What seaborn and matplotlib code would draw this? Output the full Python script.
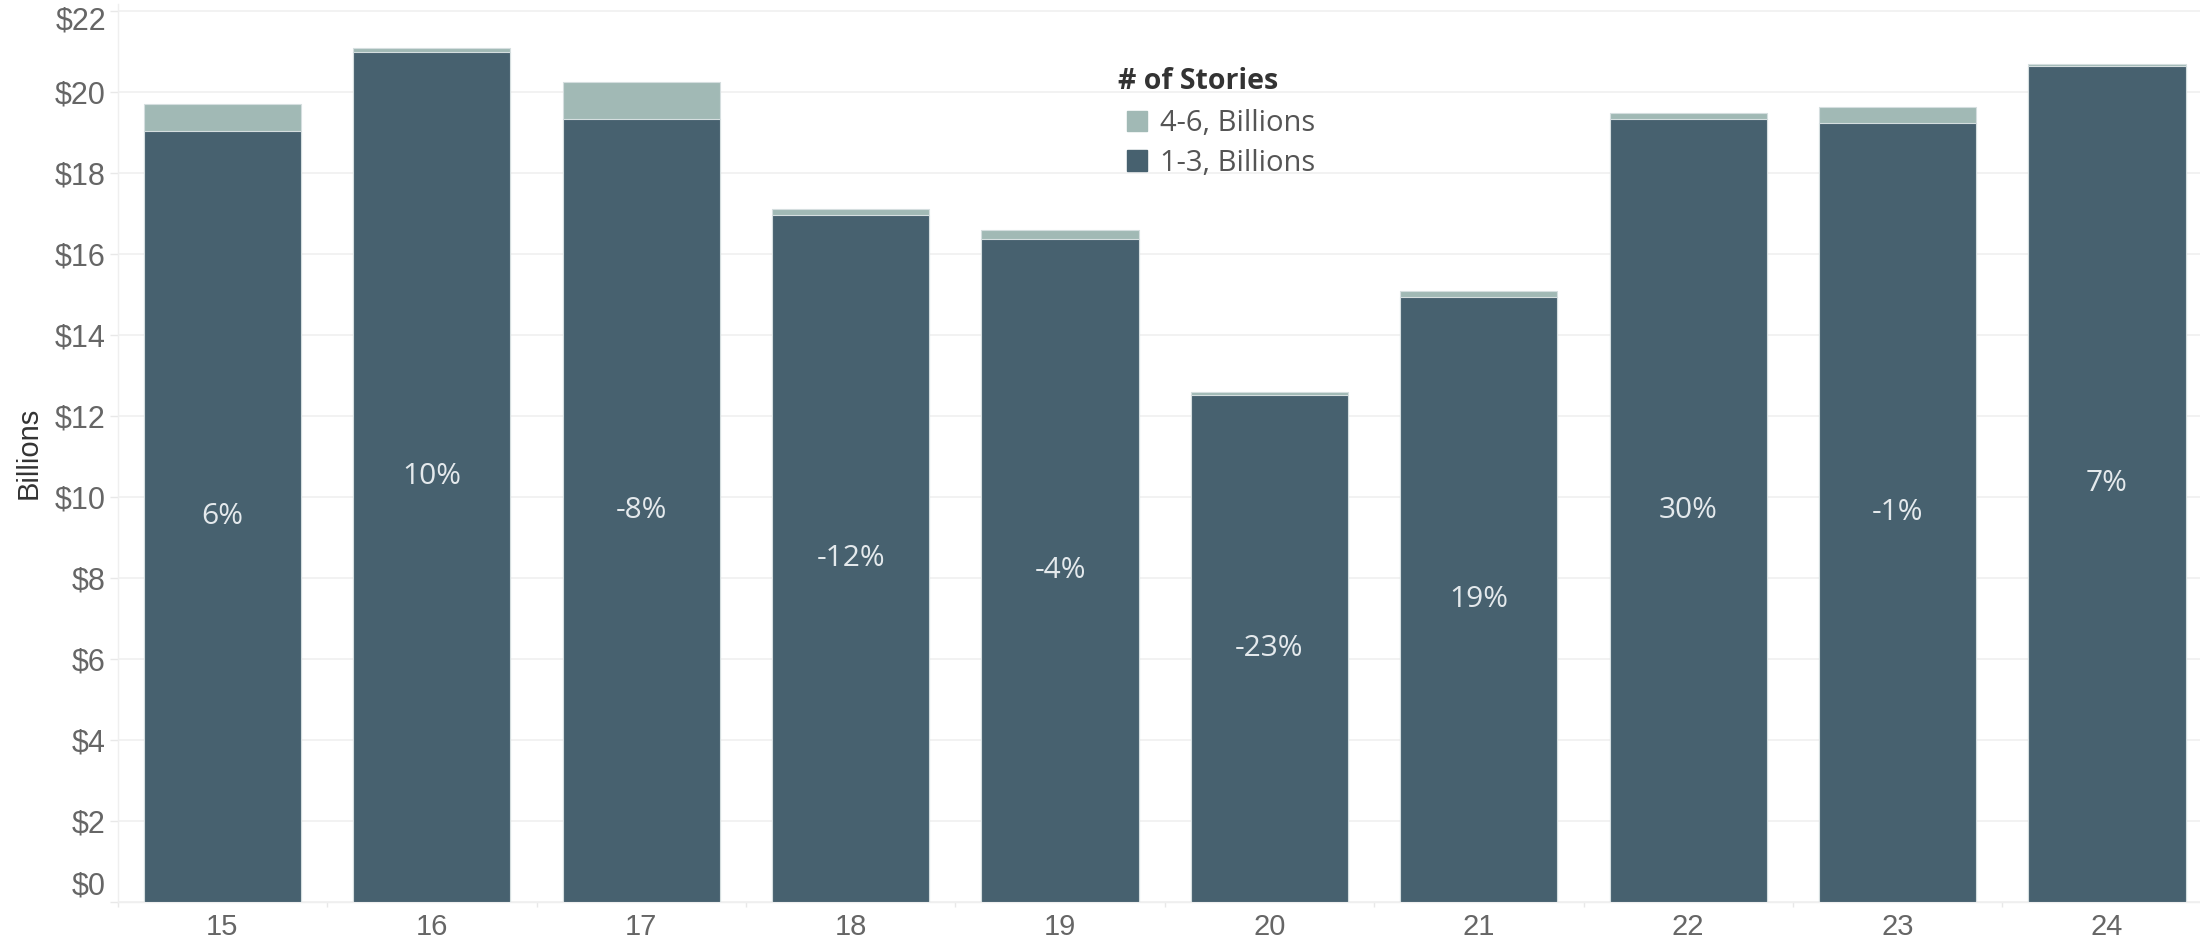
import matplotlib
matplotlib.use("Agg")
import matplotlib.pyplot as plt
from matplotlib.patches import Patch
from matplotlib.ticker import FixedLocator, FuncFormatter
from matplotlib.transforms import ScaledTranslation
import numpy as np
import pandas as pd
import seaborn as sns

# Construction value by number of stories, in billions of dollars
years = ["15", "16", "17", "18", "19", "20", "21", "22", "23", "24"]
low_rise = [19.03, 20.98, 19.33, 16.96, 16.37, 12.52, 14.93, 19.33, 19.22, 20.65]   # 1-3 stories
mid_rise = [0.66, 0.11, 0.92, 0.14, 0.22, 0.08, 0.15, 0.14, 0.40, 0.04]             # 4-6 stories
yoy_labels = ["6%", "10%", "-8%", "-12%", "-4%", "-23%", "19%", "30%", "-1%", "7%"]

series_names = ["4-6, Billions", "1-3, Billions"]
legend_title = "# of Stories"
y_label = "Billions"
y_ticks = [0, 2, 4, 6, 8, 10, 12, 14, 16, 18, 20, 22]

DARK = "#47616f"
LIGHT = "#a1b9b5"
EDGE = "#d5dedf"
GRID = "#efefef"
LABEL_FONT = ["Open Sans", "DejaVu Sans"]

df = pd.DataFrame({"year": years, "low": low_rise, "mid": mid_rise})
df["total"] = df["low"] + df["mid"]

sns.set_style("white")
plt.rcParams["font.family"] = ["Liberation Sans", "DejaVu Sans"]

W, H = 2200, 939
fig = plt.figure(figsize=(W / 100, H / 100), dpi=100)
left_px, right_px = 117.7, 2200
bottom_px, top_px = 901.7, 4
ax = fig.add_axes([left_px / W, (H - bottom_px) / H,
                   (right_px - left_px) / W, (bottom_px - top_px) / H])

# Stacked bars: full total in the light colour, 1-3 stories drawn over it
sns.barplot(data=df, x="year", y="total", color=LIGHT, width=0.75,
            edgecolor=EDGE, linewidth=0.8, saturation=1, ax=ax, zorder=3)
sns.barplot(data=df, x="year", y="low", color=DARK, width=0.75,
            edgecolor=EDGE, linewidth=0.8, saturation=1, ax=ax, zorder=4)

# Year-over-year change centred in the 1-3 stories segment
for i, (v, lab) in enumerate(zip(df["low"], yoy_labels)):
    ax.text(i, v / 2, lab, ha="center", va="center", fontsize=21.5,
            color="#e4e9ec", family=LABEL_FONT, zorder=5)

ax.set_xlim(-0.5, 9.444)
ax.set_ylim(0, 22.17)
ax.yaxis.set_major_locator(FixedLocator(y_ticks))
ax.yaxis.set_major_formatter(FuncFormatter(lambda v, p: f"${v:.0f}"))
ax.grid(axis="y", color=GRID, linewidth=1.1, zorder=0)
ax.grid(axis="x", visible=False)
ax.set_axisbelow(True)

ax.set_xlabel("")
ax.set_ylabel(y_label, fontsize=21, color="#333333")
ax.yaxis.set_label_coords(-0.036, 0.5)

ax.tick_params(axis="y", which="major", length=5.5, width=1, color="#e8e8e8",
               pad=3, labelsize=22, labelcolor="#666666", left=True)
ax.tick_params(axis="x", which="major", length=0, pad=8,
               labelsize=21, labelcolor="#666666")
ax.xaxis.set_minor_locator(FixedLocator(np.arange(-0.5, 10, 1.0)))
ax.tick_params(axis="x", which="minor", length=3.5, width=1,
               color="#e8e8e8", bottom=True)

for side in ["top", "right"]:
    ax.spines[side].set_visible(False)
for side in ["left", "bottom"]:
    ax.spines[side].set_color("#efefef")
    ax.spines[side].set_linewidth(1.0)

# Legend: title set slightly left of the colour swatches
fig.text(1118 / W, 1 - 89 / H, legend_title, ha="left", va="baseline",
         fontsize=20.5, fontweight="bold", color="#333333", family=LABEL_FONT)
handles = [Patch(facecolor=LIGHT, edgecolor=LIGHT),
           Patch(facecolor=DARK, edgecolor=DARK)]
leg = ax.legend(handles, series_names,
                loc="upper left", bbox_to_anchor=(1127 / W, 1 - 109 / H),
                bbox_transform=fig.transFigure, frameon=False,
                prop={"family": LABEL_FONT, "size": 21},
                handlelength=0.69, handleheight=0.69, handletextpad=0.45,
                labelspacing=0.37, borderpad=0, borderaxespad=0)
for t in leg.get_texts():
    t.set_color("#555555")

# Keep the end labels of the value axis inside the plot area
fig.canvas.draw()
ylabels = ax.get_yticklabels()
ylabels[0].set_verticalalignment("bottom")
ylabels[-1].set_verticalalignment("top")
ylabels[-1].set_transform(ylabels[-1].get_transform()
                          + ScaledTranslation(0, 4 / 100, fig.dpi_scale_trans))

fig.savefig("out.png", dpi=100)
